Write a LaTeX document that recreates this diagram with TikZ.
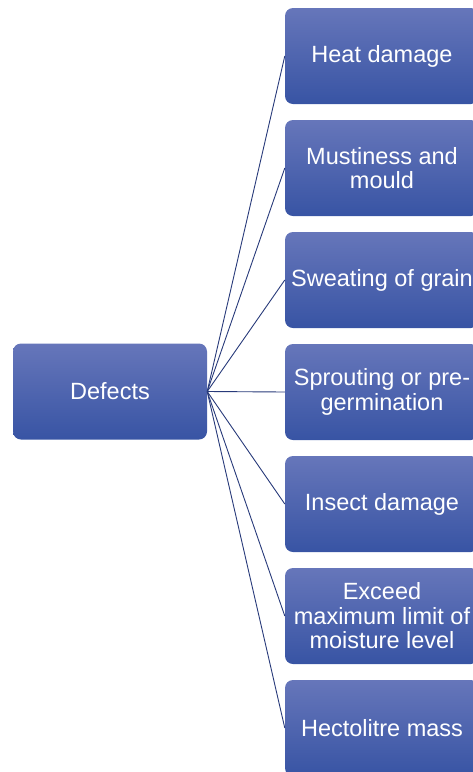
\documentclass[tikz,border=0pt]{standalone}
\usepackage{fontspec}
\setmainfont{Liberation Sans}
\begin{document}
\definecolor{boxtop}{RGB}{102,118,186}
\definecolor{boxbot}{RGB}{56,84,164}
\definecolor{linkcol}{RGB}{40,58,122}
\begin{tikzpicture}[x=1pt,y=-1pt,
  itembox/.style={rectangle, rounded corners=8pt, minimum width=194pt, minimum height=96pt,
    top color=boxtop, bottom color=boxbot, draw=none, text=white, align=center,
    inner sep=0pt, font=\fontsize{23.5}{24.5}\selectfont},
  link/.style={draw=linkcol, line width=0.9pt}]
\useasboundingbox (0,0) rectangle (473,772);
\clip (0,0) rectangle (473,772);
\node[itembox] (root) at (110,391.5) {Defects};
\node[itembox] (c1) at (382,56)  {Heat damage};
\node[itembox] (c2) at (382,168) {Mustiness and\\mould};
\node[itembox] (c3) at (382,280) {Sweating of grain};
\node[itembox] (c4) at (382,392) {Sprouting or pre-\\germination};
\node[itembox] (c5) at (382,504) {Insect damage};
\node[itembox] (c6) at (382,616) {Exceed\\maximum limit of\\moisture level};
\node[itembox] (c7) at (382,728) {Hectolitre mass};
\foreach \c in {c1,c2,c3,c4,c5,c6,c7}
  \draw[link] (root.east) -- (\c.west);
\end{tikzpicture}
\end{document}
